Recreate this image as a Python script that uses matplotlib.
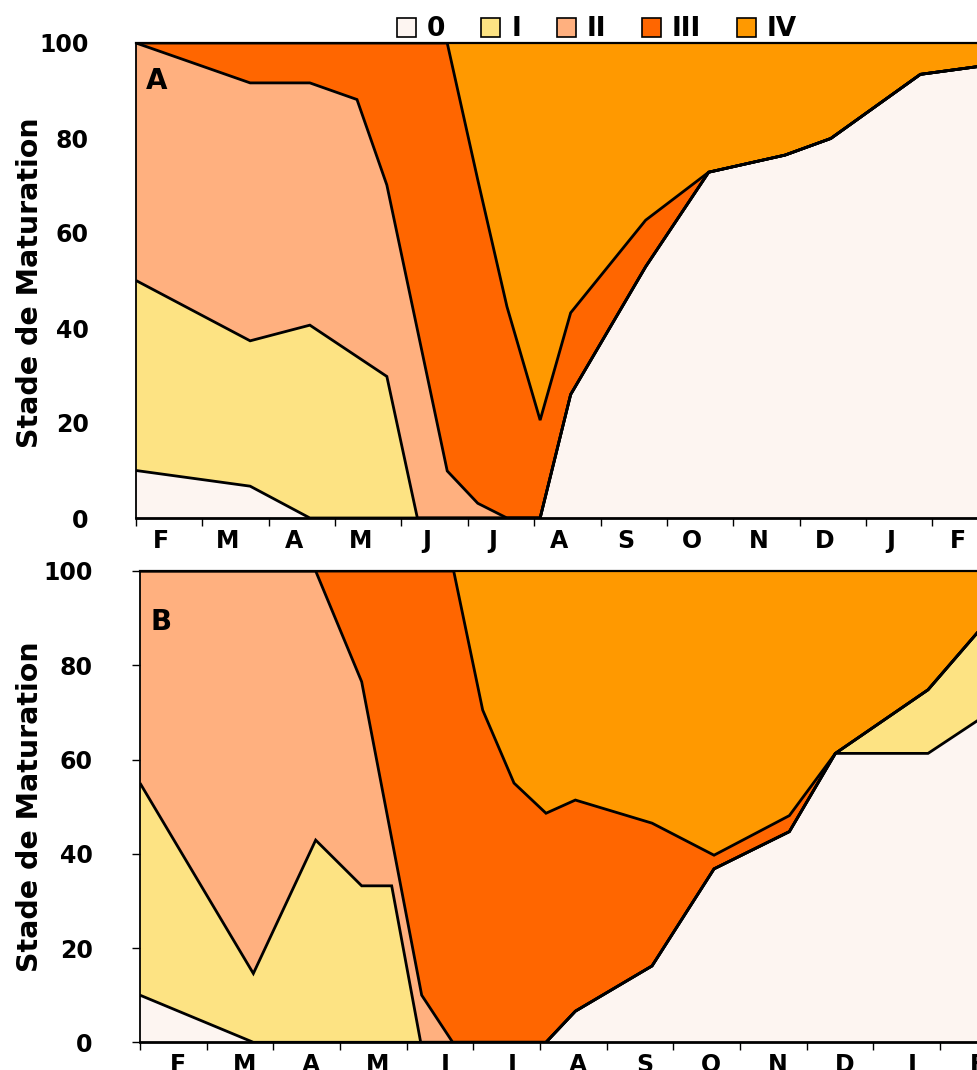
import matplotlib
matplotlib.use("Agg")
import matplotlib.pyplot as plt
from matplotlib.patches import Patch
import numpy as np

plt.rcParams["font.family"] = ["DejaVu Sans"]
plt.rcParams["font.weight"] = "bold"

# x axis in months, 0 = start of February; one unit per month
month_labels = ["F", "M", "A", "M", "J", "J", "A", "S", "O", "N", "D", "J", "F"]
y_ticks = [0, 20, 40, 60, 80, 100]

stage_names = ["0", "I", "II", "III", "IV"]
stage_colors = ["#fdf5f1", "#fde383", "#ffb07f", "#ff6600", "#ff9900"]

# Panel A: cumulative percentage at the upper edge of stages 0, I, II, III
a_edge0_x = [0, 1.72, 2.62, 6.09, 6.55, 7.68, 8.63, 9.78, 10.47, 11.82, 12.72]
a_edge0_y = [10, 6.7, 0, 0, 26.0, 52.9, 72.8, 76.4, 79.9, 93.4, 95.1]

a_edge1_x = [0, 1.72, 2.62, 3.78, 4.24, 6.09, 6.55, 7.68, 8.63, 9.78, 10.47, 11.82, 12.72]
a_edge1_y = [50, 37.3, 40.6, 29.8, 0, 0, 26.0, 52.9, 72.8, 76.4, 79.9, 93.4, 95.1]

a_edge2_x = [0, 1.72, 2.62, 3.33, 3.78, 4.69, 5.15, 5.59, 6.09, 6.55, 7.68, 8.63, 9.78, 10.47, 11.82, 12.72]
a_edge2_y = [100, 91.6, 91.6, 88.1, 70.1, 9.9, 3.1, 0, 0, 26.0, 52.9, 72.8, 76.4, 79.9, 93.4, 95.1]

a_edge3_x = [0, 4.69, 5.15, 5.59, 6.09, 6.55, 7.68, 8.63, 9.78, 10.47, 11.82, 12.72]
a_edge3_y = [100, 100, 71.2, 44.5, 20.6, 43.2, 62.7, 72.8, 76.4, 79.9, 93.4, 95.1]

# Panel B: cumulative percentage at the upper edge of stages 0, I, II, III
b_edge0_x = [0, 1.70, 6.09, 6.53, 7.68, 8.61, 9.74, 10.43, 11.82, 12.62]
b_edge0_y = [10, 0, 0, 6.6, 16.2, 36.8, 44.7, 61.3, 61.3, 68.8]

b_edge1_x = [0, 1.70, 2.635, 3.325, 3.775, 4.21, 6.09, 6.53, 7.68, 8.61, 9.74, 10.43, 11.82, 12.62]
b_edge1_y = [55, 14.6, 42.9, 33.2, 33.2, 0, 0, 6.6, 16.2, 36.8, 44.7, 61.3, 74.8, 87.9]

b_edge2_x = [0, 2.635, 3.325, 4.225, 4.69, 6.09, 6.53, 7.68, 8.61, 9.74, 10.43, 11.82, 12.62]
b_edge2_y = [100, 100, 76.5, 10.0, 0, 0, 6.6, 16.2, 36.8, 44.7, 61.3, 74.8, 87.9]

b_edge3_x = [0, 4.705, 5.14, 5.61, 6.09, 6.53, 7.68, 8.61, 9.74, 10.43, 11.82, 12.62]
b_edge3_y = [100, 100, 70.5, 55.0, 48.6, 51.4, 46.5, 39.7, 48.1, 61.3, 74.8, 87.9]

W, H = 978, 1070
fig = plt.figure(figsize=(W / 100, H / 100), dpi=100)


def px_axes(left, top, right, bottom):
    return fig.add_axes([left / W, 1 - bottom / H, (right - left) / W, (bottom - top) / H])


def draw_panel(ax, edges, letter, letter_pos, label_shift, ytick_len, ytick_pad):
    n_months = len(month_labels)
    lower_x, lower_y = [0, n_months], [0, 0]
    bounds = edges + [([0, n_months], [100, 100])]
    for k, (ux, uy) in enumerate(bounds):
        px = list(ux) + list(lower_x)[::-1]
        py = list(uy) + list(lower_y)[::-1]
        ax.fill(px, py, color=stage_colors[k], lw=0, zorder=1)
        lower_x, lower_y = ux, uy
    for ux, uy in edges:
        ax.plot(ux, uy, color="black", lw=2.0, zorder=3,
                solid_joinstyle="miter", solid_capstyle="butt")

    ax.set_xlim(0, n_months)
    ax.set_ylim(0, 100)
    ax.set_xticks(np.arange(n_months + 1))
    ax.set_xticklabels([])
    ax.set_xticks(np.arange(n_months) + 0.5 + label_shift, labels=month_labels, minor=True)
    ax.tick_params(axis="x", which="major", direction="out", length=5.5, width=1.0)
    ax.tick_params(axis="x", which="minor", length=0, pad=8, labelsize=17)
    ax.set_yticks(y_ticks)
    ax.tick_params(axis="y", direction="out", length=ytick_len, width=1.0,
                   pad=ytick_pad, labelsize=17)
    for lab in ax.get_xticklabels(minor=True) + ax.get_yticklabels():
        lab.set_fontweight("bold")
    ax.spines["right"].set_visible(False)
    ax.spines["left"].set_linewidth(1.3)
    ax.spines["top"].set_linewidth(1.6)
    ax.spines["bottom"].set_linewidth(2.0)
    for s in ax.spines.values():
        s.set_zorder(4)
    ax.text(letter_pos[0], letter_pos[1], letter, transform=ax.transAxes,
            ha="left", va="center", fontsize=20, fontweight="bold", zorder=5)


ax_a = px_axes(136, 43, 136 + 13 * 66.36, 518)
draw_panel(ax_a,
           [(a_edge0_x, a_edge0_y), (a_edge1_x, a_edge1_y),
            (a_edge2_x, a_edge2_y), (a_edge3_x, a_edge3_y)],
           "A", (0.012, 0.921), -0.12, 0, 34)

ax_b = px_axes(140, 571, 140 + 13 * 66.67, 1042.3)
draw_panel(ax_b,
           [(b_edge0_x, b_edge0_y), (b_edge1_x, b_edge1_y),
            (b_edge2_x, b_edge2_y), (b_edge3_x, b_edge3_y)],
           "B", (0.012, 0.891), 0.07, 6, 28)

# rotated axis titles
fig.text(30 / W, 1 - 283 / H, "Stade de Maturation", rotation=90,
         ha="center", va="center", fontsize=20.5, fontweight="bold")
fig.text(30 / W, 1 - 807 / H, "Stade de Maturation", rotation=90,
         ha="center", va="center", fontsize=20.5, fontweight="bold")

handles = [Patch(facecolor=c, edgecolor="black", linewidth=1.2) for c in stage_colors]
fig.legend(handles, stage_names, loc="center", bbox_to_anchor=(597 / W, 1 - 29.5 / H),
           ncol=5, frameon=False, handlelength=0.72, handleheight=0.72,
           handletextpad=0.42, columnspacing=1.35, borderaxespad=0, borderpad=0,
           prop={"size": 19, "weight": "bold"})

fig.savefig("out.png", dpi=100)
